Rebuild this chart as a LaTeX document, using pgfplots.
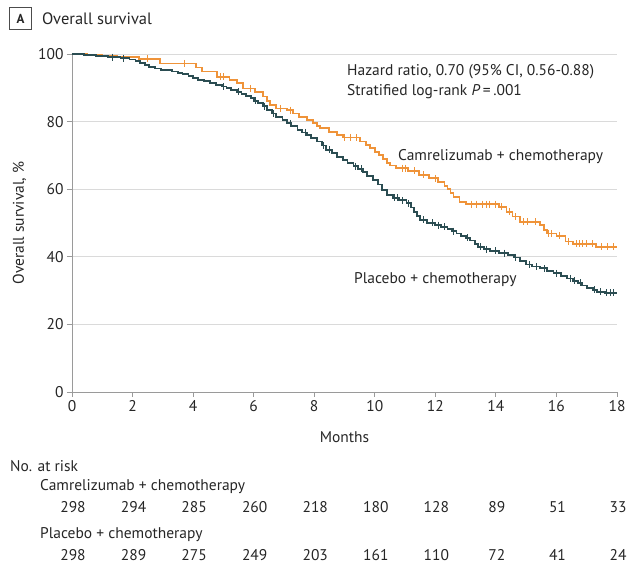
\documentclass[border=0pt]{standalone}
\usepackage{fontspec}
\setmainfont{PT Sans}
\usepackage{pgfplots}
\pgfplotsset{compat=1.18}
\definecolor{camr}{HTML}{EF9339}
\definecolor{plac}{HTML}{2B4D52}
\definecolor{axgray}{HTML}{9A9A9A}
\definecolor{gridgray}{HTML}{DADADA}
\newcommand{\fs}{\fontsize{15.5}{18}\selectfont}
\begin{document}
\begin{tikzpicture}[x=1pt,y=1pt]
\useasboundingbox (0,0) rectangle (641,567);
\begin{axis}[
  at={(72pt,175pt)}, anchor=south west,
  scale only axis, width=545pt, height=338pt,
  xmin=0, xmax=18, ymin=0, ymax=100,
  xtick={0,2,...,18}, ytick={0,20,...,100},
  axis x line*=bottom, axis y line*=left,
  axis line style={axgray, line width=0.9pt},
  tick style={axgray, line width=0.9pt}, tick align=outside,
  major tick length=5pt,
  ymajorgrids, grid style={gridgray, line width=0.9pt},
  clip=false,
  /pgf/number format/assume math mode=true,
  ticklabel style={font=\fs, text=black!85},
  xlabel={Months}, ylabel={Overall survival, \%},
  label style={font=\fs, text=black!85},
  xlabel style={yshift=-13pt},
  ylabel style={yshift=5pt},
]
\addplot[const plot, color=camr, line width=1.8pt] coordinates {
(0,100) (0.5,99.7) (1.0,99.3) (1.5,99.0) (2.2,98.6) (2.9,97.2) (4.1,96.0) (4.3,94.8) (4.8,93.3) (5.2,92.3) (5.45,91.3) (5.65,89.8) (6.05,88.8) (6.3,87.4) (6.45,86.2) (6.55,84.9) (6.75,83.9) (7.1,83.4) (7.3,82.4) (7.5,81.4) (7.75,80.5) (7.95,79.5) (8.1,78.7) (8.2,78.0) (8.5,77.0) (8.75,76.0) (8.95,75.3) (9.5,74.1) (9.7,73.1) (9.85,72.1) (10.0,71.1) (10.15,70.1) (10.28,68.9) (10.4,67.7) (10.5,67.0) (10.7,66.2) (11.1,65.4) (11.45,64.2) (11.8,63.2) (12.1,62.2) (12.3,61.0) (12.4,60.0) (12.5,58.8) (12.6,57.8) (12.8,56.3) (13.0,55.6) (14.1,54.8) (14.35,53.3) (14.55,51.9) (14.8,50.4) (15.45,49.4) (15.6,48.0) (15.7,46.9) (16.0,46.2) (16.3,44.5) (16.55,43.8) (17.3,43.0) (18,43.0)
};
\addplot[only marks, mark=|, mark size=3.5pt, color=camr, mark options={line width=1pt}] coordinates {
(2.5,98.6) (3.7,97.2) (4.9,93.3) (5.0,93.3) (5.9,89.8) (6.9,83.9) (7.2,83.4) (9.0,75.3) (9.2,75.3) (9.4,75.3) (10.9,66.2) (11.0,66.2) (11.3,65.4) (11.6,64.2) (12.0,63.2) (13.2,55.6) (13.35,55.6) (13.55,55.6) (13.7,55.6) (13.8,55.6) (14.0,55.6) (14.2,54.8) (14.45,53.3) (14.65,51.9) (14.9,50.4) (15.05,50.4) (15.3,50.4) (15.75,46.9) (15.85,46.9) (16.1,46.2) (16.4,44.5) (16.65,43.8) (16.75,43.8) (16.85,43.8) (17.0,43.8) (17.2,43.8) (17.5,43.0) (17.7,43.0) (17.9,43.0)
};
\addplot[const plot, color=plac, line width=1.8pt] coordinates {
(0,100) (0.4,99.7) (0.8,99.4) (1.2,99.1) (1.6,98.8) (1.9,98.4) (2.1,97.9) (2.25,97.3) (2.4,96.8) (2.55,96.2) (2.75,95.7) (2.95,95.2) (3.3,94.8) (3.5,94.4) (3.65,94.0) (3.85,93.5) (4.0,92.9) (4.15,92.4) (4.35,91.9) (4.55,91.3) (4.75,90.9) (4.95,90.4) (5.1,89.9) (5.25,89.4) (5.45,88.8) (5.6,88.2) (5.75,87.5) (5.9,86.9) (6.0,86.1) (6.15,85.4) (6.3,84.5) (6.45,83.5) (6.6,82.4) (6.75,81.4) (6.95,80.4) (7.1,79.5) (7.25,78.6) (7.45,77.6) (7.6,76.8) (7.75,76.0) (7.9,75.1) (8.1,74.1) (8.25,72.9) (8.4,71.7) (8.6,70.6) (8.75,69.6) (8.95,68.6) (9.1,67.7) (9.3,66.8) (9.45,66.0) (9.6,65.0) (9.75,64.0) (9.95,62.8) (10.1,61.4) (10.25,59.8) (10.4,58.4) (10.6,57.4) (10.8,56.7) (11.05,55.8) (11.2,54.6) (11.3,53.3) (11.4,52.0) (11.5,50.9) (11.72,50.0) (12.0,49.4) (12.2,48.9) (12.4,48.2) (12.55,47.6) (12.7,46.9) (12.85,46.2) (13.0,45.6) (13.15,44.8) (13.3,43.8) (13.4,43.0) (13.6,42.3) (13.8,41.8) (14.1,41.1) (14.4,40.5) (14.6,39.8) (14.8,38.8) (15.0,37.7) (15.2,37.1) (15.45,36.6) (15.7,35.9) (15.9,35.1) (16.15,34.4) (16.35,33.6) (16.55,32.9) (16.7,32.3) (16.85,31.5) (17.0,30.7) (17.2,30.2) (17.35,29.7) (17.6,29.4) (18,29.4)
};
\addplot[only marks, mark=|, mark size=3.5pt, color=plac, mark options={line width=1pt}] coordinates {
(1.35,99.1) (1.7,98.8) (5.0,90.4) (5.5,88.8) (6.05,86.1) (6.35,84.5) (6.65,82.4) (7.2,79.5) (7.7,76.8) (8.3,72.9) (8.5,71.7) (9.35,66.8) (9.55,66.0) (10.65,57.4) (10.75,57.4) (10.9,56.7) (11.1,55.8) (11.6,50.9) (11.9,50.0) (12.1,49.4) (12.3,48.9) (12.6,47.6) (13.05,45.6) (13.5,43.0) (13.7,42.3) (14.0,41.8) (14.3,41.1) (14.65,39.8) (15.1,37.7) (15.35,37.1) (15.6,36.6) (16.0,35.1) (16.45,33.6) (16.6,32.9) (16.8,32.3) (17.25,30.2) (17.45,29.7) (17.65,29.4) (17.8,29.4) (17.9,29.4)
};
\end{axis}
\begin{scope}[every node/.style={font=\fs, text=black!85, inner sep=0pt}]
% panel title
\draw[black!70, line width=0.8pt] (9.5,537.5) rectangle (31.5,559.5);
\node[font=\fontsize{13}{15}\selectfont\bfseries] at (20.5,548.5) {A};
\node[anchor=west, font=\fontsize{16.5}{19}\selectfont] at (42,548.5) {Overall survival};
% annotations
\node[anchor=west] at (347,495) {Hazard ratio, 0.70 (95\% CI, 0.56-0.88)};
\node[anchor=west] at (347,475) {Stratified log-rank \textit{P}\,=\,.001};
\node[anchor=west] at (398,410) {Camrelizumab + chemotherapy};
\node[anchor=west] at (354,287) {Placebo + chemotherapy};
% at risk table
\node[anchor=west] at (10,101) {No. at risk};
\node[anchor=west] at (40,80) {Camrelizumab + chemotherapy};
\node[anchor=west] at (40,32) {Placebo + chemotherapy};
\foreach \n [count=\i from 0] in {298,294,285,260,218,180,128,89,51,33} {
  \node at ({73+\i*60.56},60) {\n};
}
\foreach \n [count=\i from 0] in {298,289,275,249,203,161,110,72,41,24} {
  \node at ({73+\i*60.56},12) {\n};
}
\end{scope}
\end{tikzpicture}
\end{document}
